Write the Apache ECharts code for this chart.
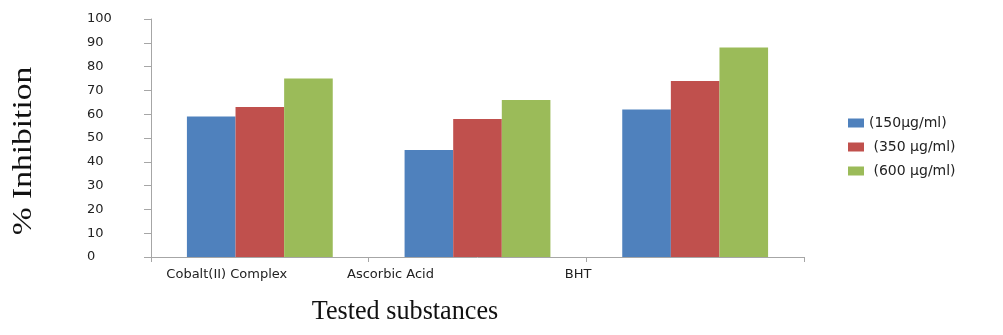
<!DOCTYPE html>
<html>
<head>
<meta charset="utf-8">
<style>
  html, body { margin: 0; padding: 0; background: #fff; }
  #chart { width: 1003px; height: 335px; }
</style>
<script src="https://cdn.jsdelivr.net/npm/echarts@6/dist/echarts.min.js"></script>
</head>
<body>
<div id="chart"></div>
<script>
// Radical-scavenging activity of the tested substances at three concentrations
const categories = ['Cobalt(II) Complex', 'Ascorbic Acid', 'BHT'];
const seriesNames = ['(150µg/ml)', ' (350 µg/ml)', ' (600 µg/ml)'];
const conc150 = [59, 45, 62];
const conc350 = [63, 58, 74];
const conc600 = [75, 66, 88];
const yTicks = [0, 10, 20, 30, 40, 50, 60, 70, 80, 90, 100];

const colors = ['#4F81BD', '#C0504D', '#9BBB59'];
const values = [conc150, conc350, conc600];

// Category labels sit left of their group centres; pad them on the right
const labelShift = { 'Cobalt(II) Complex': 'c0', 'Ascorbic Acid': 'c1', 'BHT': 'c2' };
const labelFont = { fontFamily: 'DejaVu Sans', fontSize: 13, color: '#222' };

const chart = echarts.init(document.getElementById('chart'), null, { renderer: 'canvas' });

chart.setOption({
  animation: false,
  backgroundColor: '#ffffff',
  grid: { left: 151, right: 199, top: 19, bottom: 78, containLabel: false },
  legend: {
    orient: 'vertical',
    left: 848,
    top: 116,
    padding: 0,
    itemWidth: 16,
    itemHeight: 9,
    itemGap: 10,
    icon: 'rect',
    textStyle: { fontFamily: 'DejaVu Sans', fontSize: 14, color: '#222' },
    data: seriesNames
  },
  xAxis: {
    type: 'category',
    data: categories,
    axisLine: { lineStyle: { color: '#a6a6a6', width: 1 } },
    axisTick: { show: true, length: 5, lineStyle: { color: '#a6a6a6' } },
    axisLabel: Object.assign({
      margin: 11,
      formatter: v => '{' + labelShift[v] + '|' + v + '}',
      rich: {
        c0: Object.assign({ padding: [0, 66, 0, 0] }, labelFont),
        c1: Object.assign({ padding: [0, 174, 0, 0] }, labelFont),
        c2: Object.assign({ padding: [0, 234, 0, 0] }, labelFont)
      }
    }, labelFont),
    splitLine: { show: false }
  },
  yAxis: {
    type: 'value',
    min: yTicks[0],
    max: yTicks[yTicks.length - 1],
    interval: yTicks[1] - yTicks[0],
    axisLine: { show: true, lineStyle: { color: '#a6a6a6', width: 1 } },
    axisTick: { show: true, length: 7, lineStyle: { color: '#a6a6a6' } },
    axisLabel: Object.assign({ align: 'left', margin: 64 }, labelFont),
    splitLine: { show: false }
  },
  series: seriesNames.map((name, i) => ({
    name: name,
    type: 'bar',
    data: values[i],
    barGap: '0%',
    barCategoryGap: '33%',
    itemStyle: { color: colors[i] }
  })),
  graphic: [
    {
      type: 'text',
      x: 24,
      y: 151,
      rotation: Math.PI / 2,
      scaleX: 1.24,
      style: {
        text: '% Inhibition',
        font: '27px "Liberation Serif"',
        fill: '#111',
        align: 'center',
        verticalAlign: 'middle'
      }
    },
    {
      type: 'text',
      x: 405,
      y: 312,
      scaleX: 0.97,
      style: {
        text: 'Tested substances',
        font: '27px "Liberation Serif"',
        fill: '#111',
        align: 'center',
        verticalAlign: 'middle'
      }
    }
  ]
});
</script>
</body>
</html>
